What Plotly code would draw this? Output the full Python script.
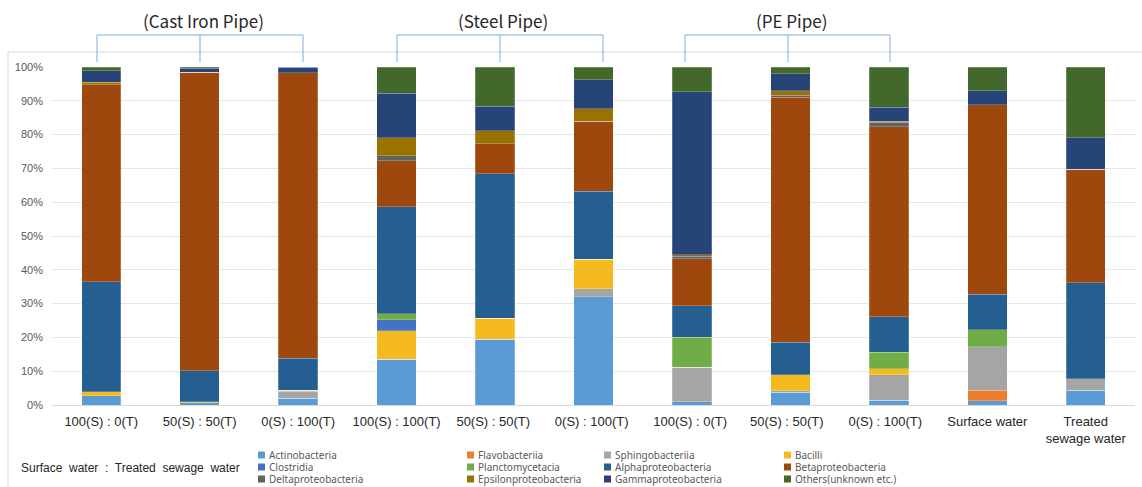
import plotly.graph_objects as go

# Sample groups (x axis)
categories = [
    "100(S) : 0(T)", "50(S) : 50(T)", "0(S) : 100(T)",
    "100(S) : 100(T)", "50(S) : 50(T) ", "0(S) : 100(T) ",
    "100(S) : 0(T) ", "50(S) : 50(T)  ", "0(S) : 100(T)  ",
    "Surface water", "Treated<br>sewage water",
]

# Relative abundance (%) of each bacterial class per sample, stacked bottom to top
actinobacteria      = [2.7, 0.6, 2.0, 13.6, 19.5, 32.0, 1.0, 3.7, 1.4, 1.3, 4.3]
flavobacteriia      = [0, 0, 0, 0, 0, 0, 0, 0, 0, 3.0, 0]
sphingobacteriia    = [0, 0, 2.0, 0, 0, 2.4, 10.1, 0.5, 7.5, 13.0, 3.4]
bacilli             = [1.2, 0.4, 0.3, 8.4, 6.2, 8.7, 0, 4.7, 1.8, 0, 0]
clostridia          = [0, 0, 0, 3.2, 0, 0, 0, 0, 0, 0, 0]
planctomycetacia    = [0, 0, 0, 1.8, 0, 0, 8.9, 0, 4.9, 4.9, 0]
alphaproteobacteria = [32.5, 9.1, 9.6, 31.7, 42.7, 20.1, 9.3, 9.6, 10.5, 10.6, 28.5]
betaproteobacteria  = [58.3, 88.4, 84.4, 13.6, 8.9, 20.7, 14.0, 72.5, 56.2, 56.0, 33.6]
deltaproteobacteria = [0, 0, 0, 1.4, 0, 0, 0.7, 0.6, 1.3, 0, 0]
epsilonproteobacteria = [0.8, 0, 0, 5.3, 3.8, 3.7, 0.4, 1.4, 0.3, 0, 0]
gammaproteobacteria = [3.4, 1.1, 1.7, 13.3, 7.3, 8.7, 48.3, 5.0, 4.2, 4.2, 9.2]
others              = [1.1, 0.4, 0, 7.7, 11.6, 3.7, 7.3, 2.0, 11.9, 7.0, 21.0]

series_names = [
    "Actinobacteria", "Flavobacteriia", "Sphingobacteriia", "Bacilli",
    "Clostridia", "Planctomycetacia", "Alphaproteobacteria", "Betaproteobacteria",
    "Deltaproteobacteria", "Epsilonproteobacteria", "Gammaproteobacteria", "Others(unknown etc.)",
]
series_values = [
    actinobacteria, flavobacteriia, sphingobacteriia, bacilli,
    clostridia, planctomycetacia, alphaproteobacteria, betaproteobacteria,
    deltaproteobacteria, epsilonproteobacteria, gammaproteobacteria, others,
]
series_colors = [
    "#5B9BD5", "#ED7D31", "#A5A5A5", "#F5BB1E",
    "#4472C4", "#70AD47", "#255E91", "#9E480E",
    "#636363", "#997300", "#264478", "#43682B",
]

pipe_groups = ["(Cast Iron Pipe)", "(Steel Pipe)", "(PE Pipe)"]

W, H = 1142, 487
L, R, T, B = 52, 7, 67, 82
PW, PH = W - L - R, H - T - B


def xp(px):
    return (px - L) / PW


def yp(py):
    return (H - B - py) / PH


fig = go.Figure()
for name, vals, col in zip(series_names, series_values, series_colors):
    fig.add_trace(go.Bar(
        x=categories, y=vals, name=name,
        marker=dict(color=col, line=dict(color="rgba(255,255,255,0.45)", width=0.5)),
        showlegend=False,
    ))

shapes = []
annotations = []

# Outer chart frame (left and top edges)
frame = "#D9D9D9"
shapes.append(dict(type="line", xref="paper", yref="paper",
                   x0=xp(8), x1=xp(8), y0=yp(52), y1=yp(H + 5),
                   line=dict(color=frame, width=1)))
shapes.append(dict(type="line", xref="paper", yref="paper",
                   x0=xp(8), x1=xp(W + 5), y0=yp(52), y1=yp(52),
                   line=dict(color=frame, width=1)))

# Group brackets over the pipe samples
bracket_px = [(97, 200, 303), (397, 500, 603), (685, 788, 890)]
bcol = "#7FAEDC"
for label, (a, m, b) in zip(pipe_groups, bracket_px):
    shapes.append(dict(type="line", xref="paper", yref="paper",
                       x0=xp(a), x1=xp(b), y0=yp(35), y1=yp(35),
                       line=dict(color=bcol, width=1)))
    for v in (a, m, b):
        shapes.append(dict(type="line", xref="paper", yref="paper",
                           x0=xp(v), x1=xp(v), y0=yp(35), y1=yp(62),
                           line=dict(color=bcol, width=1)))
    annotations.append(dict(text=label, xref="paper", yref="paper",
                            x=xp(m + 3), y=yp(20), showarrow=False,
                            xanchor="center", yanchor="middle",
                            font=dict(family="Noto Sans CJK KR", size=17, color="#262626")))

# Mixing-ratio note
annotations.append(dict(text="Surface  water  :  Treated  sewage  water", xref="paper", yref="paper",
                        x=xp(19), y=yp(468), showarrow=False,
                        xanchor="left", yanchor="middle",
                        font=dict(family="Liberation Sans", size=12, color="#262626")))

# Four-column legend
col_px = [258, 467, 604, 784]
row_px = [455, 467, 479]
for i, (name, col) in enumerate(zip(series_names, series_colors)):
    cx = col_px[i % 4]
    cy = row_px[i // 4]
    shapes.append(dict(type="rect", xref="paper", yref="paper",
                       x0=xp(cx), x1=xp(cx + 7), y0=yp(cy + 3.5), y1=yp(cy - 3.5),
                       fillcolor=col, line=dict(width=0)))
    annotations.append(dict(text=name, xref="paper", yref="paper",
                            x=xp(cx + 9), y=yp(cy), showarrow=False,
                            xanchor="left", yanchor="middle",
                            font=dict(family="Noto Sans", size=10, color="#595959")))

fig.update_layout(
    width=W, height=H,
    margin=dict(l=L, r=R, t=T, b=B, pad=0),
    barmode="stack",
    bargap=0.6,
    plot_bgcolor="white",
    paper_bgcolor="white",
    shapes=shapes,
    annotations=annotations,
    xaxis=dict(
        type="category",
        tickfont=dict(family="Liberation Sans", size=13, color="#262626"),
        showgrid=False, showline=True, linecolor="#D9D9D9", linewidth=1,
        ticks="", ticklabelstandoff=4,
    ),
    yaxis=dict(
        range=[0, 100],
        tickvals=list(range(0, 101, 10)),
        ticktext=[f"{v}%" for v in range(0, 101, 10)],
        tickfont=dict(family="Liberation Sans", size=11, color="#595959"),
        showgrid=True, gridcolor="#E6E6E6", gridwidth=1,
        zeroline=False, showline=False, ticks="",
        ticklabelstandoff=8,
    ),
)

fig.write_html("out.html")
